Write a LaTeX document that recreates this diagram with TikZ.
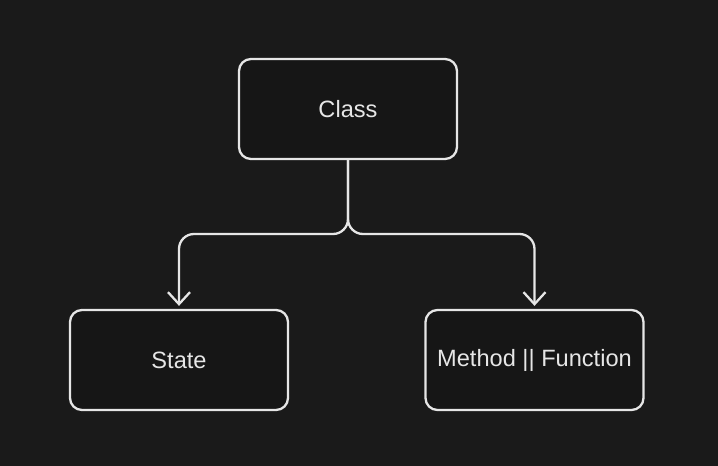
\documentclass[tikz,border=0pt]{standalone}
\usepackage{fontspec}
\setmainfont{Liberation Sans}
\usetikzlibrary{arrows.meta}
\definecolor{bgdark}{HTML}{1A1A1A}
\definecolor{boxfill}{HTML}{161616}
\definecolor{inkwhite}{HTML}{E6E6E6}
\tikzset{
    classbox/.style={draw=inkwhite, fill=boxfill, line width=2.3pt, rounded corners=12pt,
        minimum width=218pt, minimum height=100pt, inner sep=0pt,
        text=inkwhite, font=\fontsize{23.6}{28}\selectfont},
    branch/.style={draw=inkwhite, line width=2.3pt, rounded corners=15pt,
        -{Straight Barb[length=12pt,width=22pt,line width=2.3pt]}, shorten >=3pt}
}
\begin{document}
\begin{tikzpicture}[x=1pt,y=-1pt]
        \useasboundingbox[fill=bgdark] (0,0) rectangle (718,466);

        \node[classbox] (class) at (348,109) {Class};
        \node[classbox] (state) at (179,360) {State};
        \node[classbox] (method) at (534.5,360) {Method || Function};

        \coordinate (fork) at (348,234);

        \draw[branch] (class.south) -- (fork) -| (state.north);
        \draw[branch] (class.south) -- (fork) -| (method.north);

    \end{tikzpicture}
\end{document}
